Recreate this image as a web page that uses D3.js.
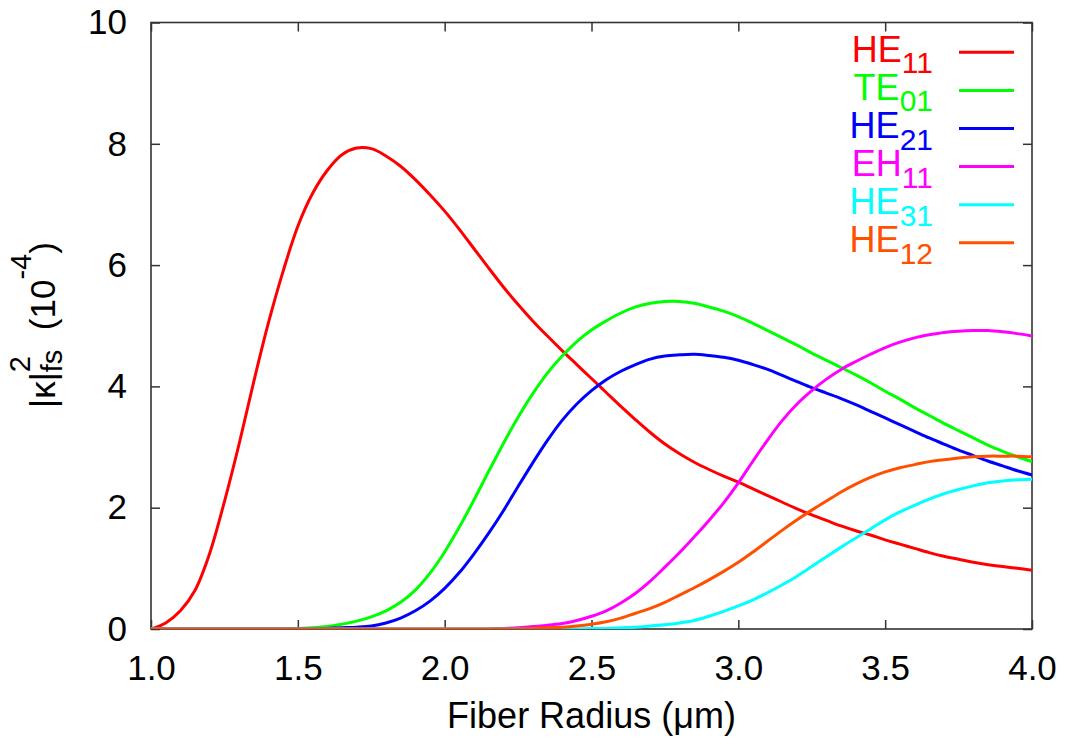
<!DOCTYPE html>
<html><head><meta charset="utf-8">
<script src="https://cdn.jsdelivr.net/npm/d3@7/dist/d3.min.js"></script>
<style>
body{margin:0;background:#fff}
text{font-family:"Liberation Sans",Arial,Helvetica,sans-serif}
</style>
</head><body>
<svg id="chart" width="1065" height="748"></svg>
<script>
// Fiber radius (µm)
const radius = [1.00,1.05,1.10,1.15,1.20,1.25,1.30,1.35,1.40,1.45,1.50,1.55,1.60,1.65,1.70,1.75,1.80,1.85,1.90,1.95,
  2.00,2.05,2.10,2.15,2.20,2.25,2.30,2.35,2.40,2.45,2.50,2.55,2.60,2.65,2.70,2.75,2.80,2.85,2.90,2.95,
  3.00,3.05,3.10,3.15,3.20,3.25,3.30,3.35,3.40,3.45,3.50,3.55,3.60,3.65,3.70,3.75,3.80,3.85,3.90,3.95,4.00];
// |kappa|^2_fs (units of 1e-4)
const he11 = [0.00,0.10,0.30,0.64,1.25,2.10,3.05,4.08,5.05,5.90,6.64,7.18,7.56,7.82,7.93,7.92,7.80,7.63,7.41,7.16,
  6.89,6.59,6.27,5.95,5.64,5.35,5.08,4.83,4.59,4.36,4.13,3.90,3.67,3.45,3.24,3.05,2.89,2.75,2.63,2.52,
  2.42,2.31,2.20,2.09,1.98,1.88,1.79,1.70,1.62,1.55,1.47,1.40,1.33,1.26,1.20,1.15,1.10,1.06,1.03,1.00,0.97];
const te01 = [0,0,0,0,0,0,0,0,0,0,0.01,0.02,0.04,0.08,0.13,0.20,0.30,0.44,0.64,0.92,
  1.27,1.68,2.13,2.60,3.06,3.49,3.88,4.22,4.50,4.74,4.93,5.08,5.21,5.31,5.37,5.40,5.40,5.37,5.31,5.24,
  5.15,5.04,4.92,4.80,4.68,4.55,4.43,4.31,4.19,4.06,3.92,3.79,3.65,3.52,3.39,3.27,3.15,3.03,2.93,2.84,2.76];
const he21 = [0,0,0,0,0,0,0,0,0,0,0,0,0.01,0.02,0.03,0.05,0.10,0.18,0.30,0.46,
  0.67,0.93,1.24,1.58,1.95,2.35,2.74,3.11,3.44,3.71,3.93,4.11,4.25,4.36,4.45,4.50,4.52,4.53,4.51,4.48,
  4.43,4.36,4.28,4.18,4.08,3.98,3.89,3.80,3.70,3.59,3.48,3.37,3.26,3.15,3.05,2.95,2.86,2.77,2.69,2.61,2.54];
const eh11 = [0,0,0,0,0,0,0,0,0,0,0,0,0,0,0,0,0,0,0,0,
  0,0,0,0,0.01,0.02,0.04,0.06,0.09,0.14,0.21,0.30,0.43,0.59,0.79,1.02,1.26,1.52,1.79,2.08,
  2.41,2.77,3.12,3.44,3.71,3.93,4.12,4.28,4.41,4.53,4.64,4.73,4.80,4.85,4.89,4.91,4.92,4.92,4.90,4.87,4.83];
const he31 = [0,0,0,0,0,0,0,0,0,0,0,0,0,0,0,0,0,0,0,0,
  0,0,0,0,0,0,0,0,0,0,0.01,0.01,0.02,0.03,0.05,0.07,0.10,0.14,0.21,0.29,
  0.38,0.48,0.60,0.73,0.87,1.03,1.19,1.35,1.50,1.65,1.80,1.93,2.04,2.14,2.23,2.30,2.36,2.41,2.44,2.46,2.47];
const he12 = [0,0,0,0,0,0,0,0,0,0,0,0,0,0,0,0,0,0,0,0,
  0,0,0,0,0,0,0.01,0.02,0.03,0.05,0.08,0.12,0.18,0.26,0.34,0.44,0.56,0.68,0.81,0.95,
  1.10,1.27,1.45,1.63,1.80,1.96,2.11,2.26,2.39,2.50,2.59,2.66,2.71,2.76,2.79,2.82,2.84,2.85,2.85,2.85,2.84];

const modeNames = ["HE","TE","HE","EH","HE","HE"];
const modeSubs  = ["11","01","21","11","31","12"];
const modeColors = ["#ff0000","#00ff00","#0000ff","#ff00ff","#00ffff","#ff5000"];
const seriesList = [he11,te01,he21,eh11,he31,he12];

const xTicks = [1.0,1.5,2.0,2.5,3.0,3.5,4.0];
const yTicks = [0,2,4,6,8,10];

const svg = d3.select("#chart");
const L=151, R=1032, T=22.5, B=629;
const x = d3.scaleLinear().domain([1,4]).range([L,R]);
const y = d3.scaleLinear().domain([0,10]).range([B,T]);

svg.append("defs").append("clipPath").attr("id","clip")
  .append("rect").attr("x",L).attr("y",T).attr("width",R-L).attr("height",B-T);

const axisColor = "#333";
function styleAxis(g){
  g.select(".domain").remove();
  g.selectAll(".tick line").attr("stroke",axisColor).attr("stroke-width",1.5);
  g.selectAll(".tick text").attr("font-size",35).attr("fill","#000")
   .attr("font-family",'"Liberation Sans",Arial,sans-serif');
}
svg.append("g").attr("transform",`translate(0,${B})`)
  .call(d3.axisBottom(x).tickValues(xTicks).tickSize(-9).tickPadding(26).tickFormat(d3.format(".1f")))
  .call(styleAxis);
svg.append("g").attr("transform",`translate(0,${T})`)
  .call(d3.axisTop(x).tickValues(xTicks).tickSize(-9).tickFormat(""))
  .call(styleAxis);
svg.append("g").attr("transform",`translate(${L},0)`)
  .call(d3.axisLeft(y).tickValues(yTicks).tickSize(-9).tickPadding(24).tickFormat(d3.format("d")))
  .call(styleAxis);
svg.append("g").attr("transform",`translate(${R},0)`)
  .call(d3.axisRight(y).tickValues(yTicks).tickSize(-9).tickFormat(""))
  .call(styleAxis);

svg.append("rect").attr("x",L).attr("y",T).attr("width",R-L).attr("height",B-T)
  .attr("fill","none").attr("stroke",axisColor).attr("stroke-width",1.6);

// curves
const line = d3.line().x((d,i)=>x(radius[i])).y(d=>y(d)).curve(d3.curveCatmullRom.alpha(0.5));
const plot = svg.append("g").attr("clip-path","url(#clip)");
seriesList.forEach((s,k)=>{
  plot.append("path").datum(s).attr("d",line)
    .attr("fill","none").attr("stroke",modeColors[k]).attr("stroke-width",3)
    .attr("stroke-linejoin","round");
});

// legend
const legY0 = 52.3, legDy = 38.1;
modeNames.forEach((n,k)=>{
  const yy = legY0 + k*legDy;
  const t = svg.append("text").attr("x",933).attr("y",yy+9.5)
    .attr("text-anchor","end").attr("fill",modeColors[k]);
  t.append("tspan").attr("font-size",36).text(n);
  t.append("tspan").attr("font-size",30).attr("dy",11.5).text(modeSubs[k]);
  svg.append("line").attr("x1",959).attr("x2",1014).attr("y1",yy).attr("y2",yy)
    .attr("stroke",modeColors[k]).attr("stroke-width",3);
});

// x axis title
svg.append("text").attr("x",(L+R)/2).attr("y",728).attr("text-anchor","middle")
  .attr("font-size",36).attr("fill","#000").text("Fiber Radius (\u03bcm)");

// y axis title built from pieces in a rotated group
const yl = svg.append("g").attr("transform","translate(55,325) rotate(-90)");
const pieces = [
  {t:"|\u03ba|", fs:35, dy:0, adv:true},
  {t:"2", fs:29, dy:-25, adv:false},
  {t:"fs", fs:29, dy:7, adv:true},
  {t:"  (10", fs:35, dy:0, adv:true},
  {t:"-4", fs:29, dy:-24, adv:true},
  {t:")", fs:35, dy:0, adv:true}
];
let cx = 0; const made=[];
pieces.forEach(p=>{
  const el = yl.append("text").attr("x",cx).attr("y",p.dy).attr("font-size",p.fs)
    .attr("fill","#000").style("white-space","pre").attr("xml:space","preserve").text(p.t);
  const w = el.node().getComputedTextLength();
  made.push(el);
  if(p.adv) cx += w;
});
const total = cx;
made.forEach(el=>el.attr("x", +el.attr("x") - total/2));
</script>
</body></html>
